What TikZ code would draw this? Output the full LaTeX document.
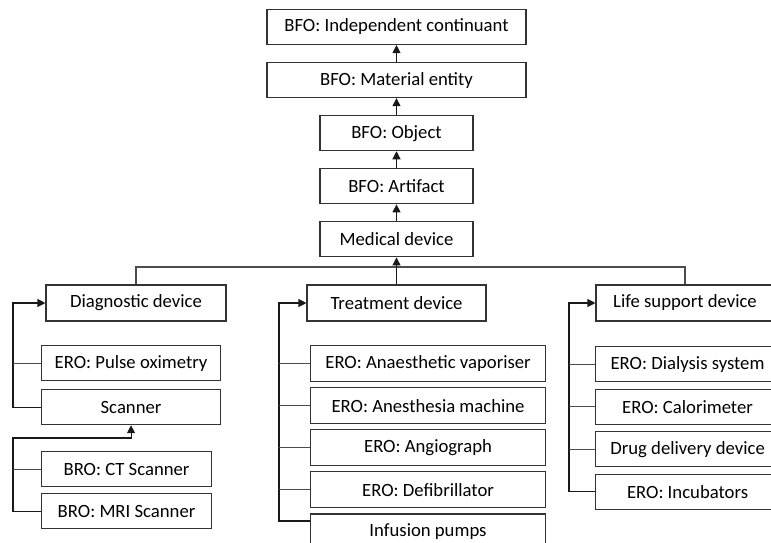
\documentclass[tikz,border=0pt]{standalone}
\usepackage{fontspec}
\setmainfont{Carlito}
\usetikzlibrary{arrows.meta,positioning}

\begin{document}
\begin{tikzpicture}[
  x=1pt,y=-1pt,
  node distance=17pt,
  box/.style={draw=black!80,line width=1.1pt,fill=white,inner sep=0pt,
    minimum height=35pt,font=\fontsize{18.7}{22}\selectfont},
  boxwide/.style={box,minimum width=259pt},
  boxmid/.style={box,minimum width=153pt},
  boxcat/.style={box,minimum height=36pt},
  line/.style={draw=black!70,line width=1.1pt},
  arr/.style={line,draw=black!90,-{Triangle[length=8pt,width=8pt]}}
]
\useasboundingbox (0,0) rectangle (771,542);
\clip (0,0) rectangle (771,542);

% BFO chain
\node[boxwide] (ind) at (396.5,27) {BFO: Independent continuant};
\node[boxwide,below=of ind] (mat) {BFO: Material entity};
\node[boxmid,below=of mat] (obj) {BFO: Object};
\node[boxmid,below=of obj] (art) {BFO: Artifact};
\node[boxmid,below=of art] (med) {Medical device};

% device categories
\node[boxcat,minimum width=180pt] (diag) at (136,303) {Diagnostic device};
\node[boxcat,minimum width=179pt] (treat) at (396.5,303) {Treatment device};
\node[boxcat,minimum width=178pt] (life) at (685,303) {Life support device};

% diagnostic
\node[box,minimum width=179pt,anchor=north west] (pulse) at (41,345) {ERO: Pulse oximetry};
\node[box,minimum width=179pt,below=8pt of pulse] (scan) {Scanner};
\node[box,minimum width=170pt,anchor=north west] (ct) at (41,451) {BRO: CT Scanner};
\node[box,minimum width=170pt,below=6pt of ct] (mri) {BRO: MRI Scanner};

% treatment
\node[boxcat,minimum width=235pt,anchor=north west] (vap) at (310,345) {ERO: Anaesthetic vaporiser};
\node[boxcat,minimum width=235pt,below=5pt of vap] (mach) {ERO: Anesthesia machine};
\node[boxcat,minimum width=235pt,below=5pt of mach] (angio) {ERO: Angiograph};
\node[boxcat,minimum width=235pt,below=5pt of angio] (defib) {ERO: Defibrillator};
\node[boxcat,minimum width=235pt,below=5pt of defib] (inf) {Infusion pumps};

% life support
\node[box,minimum width=184pt,anchor=north west] (dial) at (595,346) {ERO: Dialysis system};
\node[box,minimum width=184pt,below=6.5pt of dial] (calo) {ERO: Calorimeter};
\node[box,minimum width=184pt,below=6.5pt of calo] (drug) {Drug delivery device};
\node[box,minimum width=184pt,below=6.5pt of drug] (incu) {ERO: Incubators};

% is-a links
\foreach \a/\b in {mat/ind,obj/mat,art/obj,med/art}
  \draw[arr] (\a) -- (\b);
\coordinate (bus) at (396.5,267);
\draw[line] (diag.north) |- (bus) -| (life.north);
\draw[arr] (treat.north) -- (med.south);

\coordinate (dtrunk) at (13,303);
\draw[arr] (scan.west) -| (dtrunk) -- (diag.west);
\draw[line] (pulse.west) -- (pulse.west -| dtrunk);
\coordinate (strunk) at (13,438);
\draw[arr] (mri.west) -| (strunk) -| (scan.south);
\draw[line] (ct.west) -- (ct.west -| strunk);

\coordinate (ttrunk) at (279,303);
\draw[arr] ([yshift=11pt]inf.west) -| (ttrunk) -- (treat.west);
\foreach \c in {vap,mach,angio,defib}
  \draw[line] (\c.west) -- (\c.west -| ttrunk);

\coordinate (ltrunk) at (569,303);
\draw[arr] (incu.west) -| (ltrunk) -- (life.west);
\foreach \c in {dial,calo,drug}
  \draw[line] (\c.west) -- (\c.west -| ltrunk);
\end{tikzpicture}
\end{document}
